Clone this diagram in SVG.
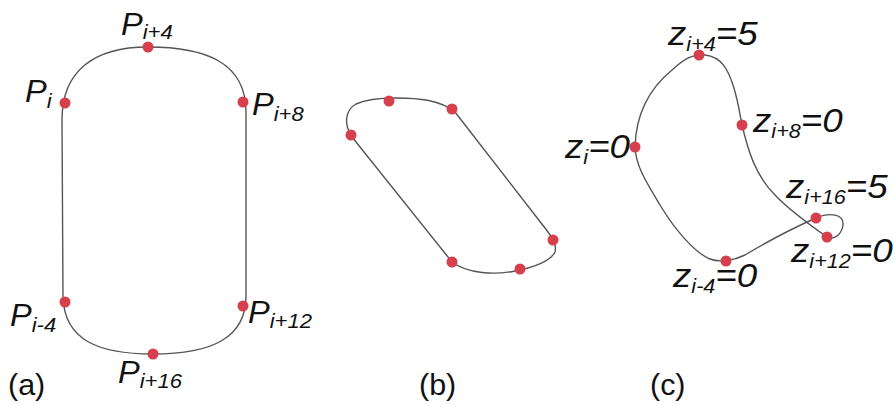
<svg xmlns="http://www.w3.org/2000/svg" width="893" height="405" viewBox="0 0 893 405">
<defs>
<style>
.curve{fill:none;stroke:#555;stroke-width:1.4;stroke-linejoin:round}
.dot{fill:#d6404c}
.lbl{font-family:"Liberation Sans",Arial,sans-serif;font-style:italic;fill:#111}
.P{font-size:31px}
.Z{font-size:34px}
.sub{font-size:21px}
.zsub{font-size:20px}
.cap{font-family:"Liberation Sans",Arial,sans-serif;font-size:29px;fill:#111}
</style>
</defs>
<rect width="893" height="405" fill="#fff"/>

<g id="connectors">
<path id="curve-a" class="curve" d="M 62,120 C 62,70 95,47 148,47 C 205,47 246,62 246,112 L 246,296 C 246,338 212,354 153,354 C 98,354 65,340 63,298 Z"/>
<path id="curve-b" class="curve" d="M 351,135 C 344,124 345,110 356,104 C 367,99 380,98 395,98 C 420,98 440,100 455,112 L 545,228 C 552,237 557,244 555,252 C 550,262 530,268 515,271 C 495,275 468,274 452,262 L 360,147 C 356,142 353,138 351,135 Z"/>
<path id="curve-c" class="curve" d="M 635,147 C 636,112 650,88 672,70 C 685,58 693,54 705,55 C 722,57 728,70 733,85 C 738,100 740,115 742,125 C 748,150 755,175 775,195 C 790,211 810,225 827,237 C 835,241 842,233 843,225 C 844,214 830,212 816,218 C 800,225 770,240 745,255 C 735,260 720,263 710,259 C 695,253 675,230 660,205 C 645,180 636,166 635,147 Z"/>
</g>

<g id="panel-a">
<g id="a-Pi4"><circle class="dot" cx="148" cy="47" r="5.5"/><text class="lbl P" transform="translate(121,35) scale(1.05,1)">P<tspan class="sub" dy="4">i+4</tspan></text></g>
<g id="a-Pi"><circle class="dot" cx="65" cy="103" r="5.5"/><text class="lbl P" transform="translate(25,102) scale(1.05,1)">P<tspan class="sub" dy="6">i</tspan></text></g>
<g id="a-Pi8"><circle class="dot" cx="243" cy="102" r="5.5"/><text class="lbl P" transform="translate(252,115) scale(1.05,1)">P<tspan class="sub" dy="6">i+8</tspan></text></g>
<g id="a-Pim4"><circle class="dot" cx="65" cy="302" r="5.5"/><text class="lbl P" transform="translate(10,326) scale(1.05,1)">P<tspan class="sub" dy="6">i-4</tspan></text></g>
<g id="a-Pi12"><circle class="dot" cx="243" cy="306" r="5.5"/><text class="lbl P" transform="translate(248,323) scale(1.05,1)">P<tspan class="sub" dy="5">i+12</tspan></text></g>
<g id="a-Pi16"><circle class="dot" cx="153" cy="354" r="5.5"/><text class="lbl P" transform="translate(118,383) scale(1.05,1)">P<tspan class="sub" dy="5">i+16</tspan></text></g>
<text class="cap" transform="translate(8,395) scale(1.05,1)">(a)</text>
</g>

<g id="panel-b">
<circle class="dot" cx="389" cy="101" r="5.5"/>
<circle class="dot" cx="452" cy="109" r="5.5"/>
<circle class="dot" cx="351" cy="135" r="5.5"/>
<circle class="dot" cx="553" cy="240" r="5.5"/>
<circle class="dot" cx="452" cy="262" r="5.5"/>
<circle class="dot" cx="520" cy="269" r="5.5"/>
<text class="cap" transform="translate(419,395) scale(1.05,1)">(b)</text>
</g>

<g id="panel-c">
<g id="c-zi4"><circle class="dot" cx="699" cy="55" r="5.5"/><text class="lbl Z" transform="translate(668,45) scale(1.08,1)">z<tspan class="zsub" dy="6">i+4</tspan><tspan dy="-6">=5</tspan></text></g>
<g id="c-zi8"><circle class="dot" cx="742" cy="125" r="5.5"/><text class="lbl Z" transform="translate(753,132) scale(1.08,1)">z<tspan class="zsub" dy="6">i+8</tspan><tspan dy="-6">=0</tspan></text></g>
<g id="c-zi"><circle class="dot" cx="635" cy="147" r="5.5"/><text class="lbl Z" transform="translate(565,158) scale(1.08,1)">z<tspan class="zsub" dy="6">i</tspan><tspan dy="-6">=0</tspan></text></g>
<g id="c-zi16"><circle class="dot" cx="816" cy="218" r="5.5"/><text class="lbl Z" transform="translate(786,198) scale(1.08,1)">z<tspan class="zsub" dy="6">i+16</tspan><tspan dy="-6">=5</tspan></text></g>
<g id="c-zi12"><circle class="dot" cx="827" cy="237" r="5.5"/><text class="lbl Z" transform="translate(791,262) scale(1.08,1)">z<tspan class="zsub" dy="6">i+12</tspan><tspan dy="-6">=0</tspan></text></g>
<g id="c-zim4"><circle class="dot" cx="726" cy="261" r="5.5"/><text class="lbl Z" transform="translate(673,287) scale(1.08,1)">z<tspan class="zsub" dy="6">i-4</tspan><tspan dy="-6">=0</tspan></text></g>
<text class="cap" transform="translate(650,395) scale(1.05,1)">(c)</text>
</g>
</svg>
